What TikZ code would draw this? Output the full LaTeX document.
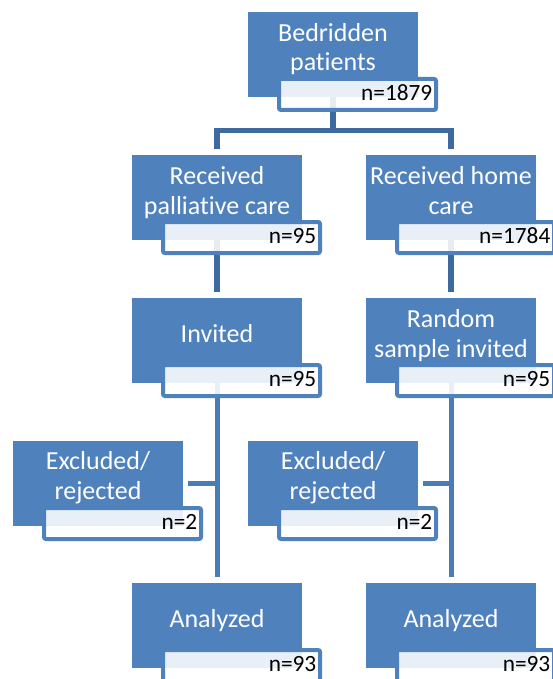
\documentclass[tikz,border=0pt]{standalone}
\usepackage{fontspec}
\setmainfont{Carlito}[Ligatures={NoCommon}]
\usetikzlibrary{backgrounds}
\definecolor{boxblue}{HTML}{4F81BD}
\definecolor{darkline}{HTML}{3E6AA0}
\definecolor{lightline}{HTML}{4A7CB8}
\newcommand\twolines[2]{\vbox{\baselineskip=29.5pt\lineskiplimit=-100pt\halign{\hfil##\hfil\cr#1\cr#2\cr}}}
\newcommand\flowbox[6]{%
  \node[bluebox, anchor=north west] (#1) at (#2,#3) {};
  \node[nbox, anchor=north west] (#1n) at (#2+31,#3+67) {};
  \node[lbl, anchor=base] (#1t) at (#2+85,#3+#6) {#4};
  \node[ntext, anchor=base east] (#1nt) at (#2+184.5,#3+88.5) {#5};
}
\tikzset{
  bluebox/.style={rectangle, fill=boxblue, draw=none, minimum width=170pt, minimum height=85pt, inner sep=0pt, outer sep=0pt},
  nbox/.style={rectangle, rounded corners=2pt, draw=boxblue, line width=4pt, fill=white, fill opacity=0.88, minimum width=157pt, minimum height=31pt, inner sep=0pt, outer sep=0pt},
  lbl/.style={text=white, inner sep=0pt, font=\fontsize{26}{29.5}\selectfont},
  ntext/.style={text=black, inner sep=0pt, font=\fontsize{23.3}{26}\selectfont},
  darkconn/.style={draw=darkline, line width=5.5pt},
  conn/.style={draw=lightline, line width=5pt},
}
\begin{document}
\begin{tikzpicture}[x=1pt,y=-1pt]
\useasboundingbox (0,0) rectangle (553,679);
\flowbox{T}{248}{12}{\twolines{Bedridden}{patients}}{n=1879}{59}
\flowbox{A2}{132}{155}{\twolines{Received}{palliative care}}{n=95}{59}
\flowbox{B2}{366}{155}{\twolines{Received home}{care}}{n=1784}{59}
\flowbox{A3}{132}{298}{Invited}{n=95}{44}
\flowbox{B3}{366}{298}{\twolines{Random}{sample invited}}{n=95}{59}
\flowbox{E1}{13}{441}{\twolines{Excluded/}{rejected}}{n=2}{58}
\flowbox{E2}{248}{441}{\twolines{Excluded/}{rejected}}{n=2}{58}
\flowbox{A5}{132}{583}{Analyzed}{n=93}{44}
\flowbox{B5}{366}{583}{Analyzed}{n=93}{44}
\begin{scope}[on background layer]
  \draw[darkconn] (T.south) -- ++(0,33.5) -| ([yshift=6pt]A2.north);
  \draw[darkconn] (T.south) -- ++(0,33.5) -| ([yshift=6pt]B2.north);
  \draw[darkconn] (A2.south) -- ([yshift=6pt]A3.north);
  \draw[darkconn] (B2.south) -- ([yshift=6pt]B3.north);
  \draw[conn] (A3.south) -- ([yshift=6pt]A5.north);
  \draw[conn] (B3.south) -- ([yshift=6pt]B5.north);
  \draw[conn] ([xshift=5pt]E1.east) -- (E1.east -| A3.south);
  \draw[conn] ([xshift=5pt]E2.east) -- (E2.east -| B3.south);
\end{scope}
\end{tikzpicture}
\end{document}
